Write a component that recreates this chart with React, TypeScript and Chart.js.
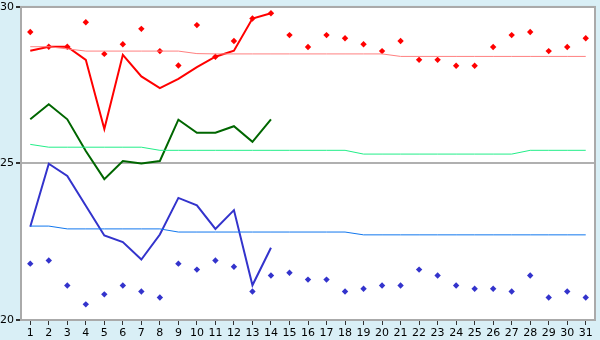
import React, { useEffect, useRef } from "react";
import { Chart, registerables } from "chart.js";

Chart.register(...registerables);

const days = Array.from({ length: 31 }, (_, i) => String(i + 1));

const redLine = [28.6, 28.73, 28.73, 28.31, 26.1, 28.47, 27.78, 27.41, 27.7, 28.08, 28.41, 28.6, 29.63, 29.8];
const redPoints = [29.2, 28.73, 28.73, 29.51, 28.5, 28.81, 29.3, 28.59, 28.13, 29.42, 28.41, 28.91, 29.63, 29.8, 29.1, 28.72, 29.1, 29.0, 28.81, 28.59, 28.91, 28.31, 28.31, 28.12, 28.12, 28.72, 29.1, 29.2, 28.59, 28.72, 29.0];
const redAvg = [28.73, 28.73, 28.66, 28.59, 28.59, 28.59, 28.59, 28.59, 28.59, 28.51, 28.5, 28.5, 28.5, 28.5, 28.5, 28.5, 28.5, 28.5, 28.5, 28.5, 28.42, 28.42, 28.42, 28.42, 28.42, 28.42, 28.42, 28.42, 28.42, 28.42, 28.42];

const greenLine = [26.41, 26.89, 26.41, 25.4, 24.5, 25.08, 25.0, 25.08, 26.4, 25.98, 25.98, 26.19, 25.69, 26.41];
const greenAvg = [25.61, 25.52, 25.52, 25.52, 25.52, 25.52, 25.52, 25.42, 25.42, 25.42, 25.42, 25.42, 25.42, 25.42, 25.42, 25.42, 25.42, 25.42, 25.3, 25.3, 25.3, 25.3, 25.3, 25.3, 25.3, 25.3, 25.3, 25.42, 25.42, 25.42, 25.42];

const blueLine = [22.98, 24.99, 24.6, 23.65, 22.7, 22.49, 21.93, 22.73, 23.9, 23.66, 22.91, 23.51, 21.11, 22.31];
const bluePoints = [21.8, 21.9, 21.1, 20.5, 20.82, 21.1, 20.91, 20.72, 21.8, 21.61, 21.9, 21.7, 20.91, 21.42, 21.51, 21.29, 21.29, 20.91, 21.0, 21.1, 21.1, 21.61, 21.42, 21.1, 21.0, 21.0, 20.91, 21.42, 20.72, 20.91, 20.72];
const blueAvg = [23.0, 23.0, 22.91, 22.91, 22.91, 22.91, 22.91, 22.91, 22.81, 22.81, 22.81, 22.81, 22.81, 22.81, 22.81, 22.81, 22.81, 22.81, 22.72, 22.72, 22.72, 22.72, 22.72, 22.72, 22.72, 22.72, 22.72, 22.72, 22.72, 22.72, 22.72];

const yTicks = [20, 25, 30];

const bgPlugin = {
  id: "bgPlugin",
  beforeDraw(chart: any) {
    const { ctx, chartArea: a, width, height } = chart;
    ctx.save();
    ctx.fillStyle = "#d9eff6";
    ctx.fillRect(0, 0, width, height);
    ctx.fillStyle = "#ffffff";
    ctx.fillRect(a.left, a.top, a.right - a.left, a.bottom - a.top);
    ctx.restore();
  },
  beforeDatasetsDraw(chart: any) {
    const { ctx, chartArea: a } = chart;
    ctx.save();
    ctx.strokeStyle = "#aaaaaa";
    ctx.lineWidth = 2;
    ctx.strokeRect(a.left, a.top, a.right - a.left, a.bottom - a.top);
    ctx.restore();
  },
};

export default function App() {
  const ref = useRef<HTMLCanvasElement>(null);
  useEffect(() => {
    const thick = (data: number[], color: string) => ({
      data,
      borderColor: color,
      backgroundColor: color,
      borderWidth: 2,
      pointRadius: 0,
      tension: 0,
      fill: false,
    });
    const thin = (data: number[], color: string) => ({
      data,
      borderColor: color,
      backgroundColor: color,
      borderWidth: 1,
      pointRadius: 0,
      tension: 0,
      fill: false,
    });
    const pts = (data: number[], color: string) => ({
      data,
      borderColor: color,
      backgroundColor: color,
      showLine: false,
      pointStyle: "rectRot",
      pointRadius: 3.2,
      borderWidth: 0,
    });
    const chart = new Chart(ref.current!, {
      type: "line",
      data: {
        labels: days,
        datasets: [
          thin(redAvg, "#ff8080"),
          thin(greenAvg, "#22ee88"),
          thin(blueAvg, "#1177ee"),
          thick(greenLine, "#006600"),
          thick(blueLine, "#3333cc"),
          thick(redLine, "#ff0000"),
          pts(redPoints, "#ff0000"),
          pts(bluePoints, "#3333cc"),
        ] as any,
      },
      options: {
        animation: false,
        responsive: false,
        maintainAspectRatio: false,
        layout: { padding: { top: 5, right: 5, left: 0, bottom: 0 } },
        plugins: { legend: { display: false }, tooltip: { enabled: false } },
        scales: {
          x: {
            offset: true,
            grid: { drawOnChartArea: false, drawTicks: true, tickLength: 5, color: "#333333" },
            border: { display: true, color: "#aaaaaa", width: 2 },
            ticks: {
              color: "#000000",
              font: { family: "DejaVu Sans", size: 11 },
              padding: 2,
              maxRotation: 0,
              autoSkip: false,
            },
            afterFit(s: any) {
              s.height = 20;
            },
          },
          y: {
            min: 20,
            max: 30,
            afterBuildTicks(s: any) {
              s.ticks = yTicks.map((v) => ({ value: v }));
            },
            grid: { color: "#b0b0b0", tickColor: "#333333", tickLength: 5, lineWidth: 2 },
            border: { display: true, color: "#aaaaaa", width: 2 },
            ticks: {
              color: "#000000",
              font: { family: "DejaVu Sans", size: 11, lineHeight: 0.9 },
              padding: 2,
            },
            afterFit(s: any) {
              s.width = 21;
            },
          },
        },
      },
      plugins: [bgPlugin],
    });
    return () => chart.destroy();
  }, []);
  return (
    <div style={{ position: "fixed", left: 0, top: 0, width: 600, height: 340, background: "#d9eff6" }}>
      <canvas ref={ref} width={600} height={340} style={{ display: "block" }} />
    </div>
  );
}
